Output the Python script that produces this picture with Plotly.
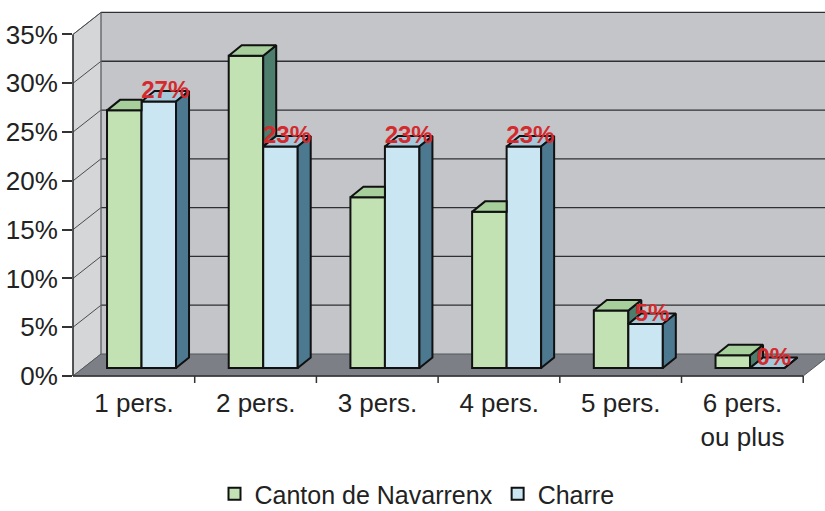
import math
import plotly.graph_objects as go

# ---------------- data ----------------
categories = ["1 pers.", "2 pers.", "3 pers.", "4 pers.", "5 pers.", "6 pers.<br>ou plus"]
canton = [26.4, 32.0, 17.5, 16.0, 5.9, 1.3]
charre = [27.3, 22.7, 22.7, 22.7, 4.5, 0.0]
series_names = ["Canton de Navarrenx", "Charre"]
y_ticks = [0, 5, 10, 15, 20, 25, 30, 35]
y_tick_labels = [f"{v}%" for v in y_ticks]

# ---------------- style ----------------
FONT = "Liberation Sans, Arial, sans-serif"
GREEN_FRONT, GREEN_TOP, GREEN_SIDE = "#c2e2b3", "#a6cf9c", "#4d7d6c"
BLUE_FRONT, BLUE_TOP, BLUE_SIDE = "#c9e6f2", "#a3c9da", "#4c7990"
BACK_WALL, SIDE_WALL, FLOOR = "#c3c5c8", "#d4d6d8", "#7c8086"
LABEL_RED = "#d42a2e"

W, H = 825, 511
L, R, T, B = 73, 825, 12, 376          # plot area in pixels
XR = [-0.563, 5.616]                    # x range (bar plane)
YR = [-0.82, 36.48]                     # y range (bar plane, percent)
PXX = (R - L) / (XR[1] - XR[0])
PXY = (B - T) / (YR[1] - YR[0])
BAR_W = 0.2835
DX = 13 / PXX                           # bar depth in data units
DY = 10.5 / PXY
FRONT_DX = -7.5 / PXX                   # front plane shift vs bar plane
FRONT_DY = YR[0]


def xp(px):
    return (px - L) / (R - L)


def yp(py):
    return (B - py) / (B - T)


def front_py(v):
    return B - v * PXY


shapes = []
# back wall
shapes.append(dict(type="rect", xref="paper", yref="paper", x0=xp(L + 28), x1=1.0,
                   y0=yp(B - 22), y1=yp(front_py(35) - 22), fillcolor=BACK_WALL,
                   line=dict(width=0), layer="below"))
# left side wall
shapes.append(dict(type="path", xref="paper", yref="paper",
                   path=f"M{xp(L)},{yp(B)} L{xp(L)},{yp(front_py(35))} L{xp(L+28)},{yp(front_py(35)-22)} "
                        f"L{xp(L+28)},{yp(B-22)} Z",
                   fillcolor=SIDE_WALL, line=dict(color="#6a6d70", width=1), layer="below"))
# floor
front_right = L + 6 * PXX
shapes.append(dict(type="path", xref="paper", yref="paper",
                   path=f"M{xp(L)},{yp(B)} L{xp(front_right)},{yp(B)} L{xp(front_right+28)},{yp(B-22)} "
                        f"L{xp(L+28)},{yp(B-22)} Z",
                   fillcolor=FLOOR, line=dict(color="#55585c", width=1), layer="below"))
# gridlines (back wall + left wall diagonals)
for v in y_ticks[1:]:
    pyf = front_py(v)
    shapes.append(dict(type="line", xref="paper", yref="paper", x0=xp(L + 28), x1=1.0,
                       y0=yp(pyf - 22), y1=yp(pyf - 22), line=dict(color="#2e3033", width=1.3),
                       layer="below"))
    shapes.append(dict(type="line", xref="paper", yref="paper", x0=xp(L), x1=xp(L + 28),
                       y0=yp(pyf), y1=yp(pyf - 22), line=dict(color="#4a4c4f", width=1),
                       layer="below"))
# back wall left edge
shapes.append(dict(type="line", xref="paper", yref="paper", x0=xp(L + 28), x1=xp(L + 28),
                   y0=yp(B - 22), y1=yp(front_py(35) - 22), line=dict(color="#6a6d70", width=1),
                   layer="below"))
# front axes
shapes.append(dict(type="line", xref="paper", yref="paper", x0=0, x1=0, y0=0,
                   y1=yp(front_py(35)), line=dict(color="#333", width=1.5)))
shapes.append(dict(type="line", xref="paper", yref="paper", x0=0, x1=xp(front_right), y0=0,
                   y1=0, line=dict(color="#333", width=1.5)))
for k in range(1, len(categories) + 1):
    shapes.append(dict(type="line", xref="paper", yref="paper", x0=xp(L + k * PXX),
                       x1=xp(L + k * PXX), y0=0, y1=-7 / (B - T), line=dict(color="#333", width=1.5)))

fig = go.Figure()
xs = list(range(len(categories)))
fig.add_trace(go.Bar(x=xs, y=canton, name=series_names[0], offsetgroup="a",
                     marker=dict(color=GREEN_FRONT, line=dict(color="#111", width=2)),
                     hoverinfo="skip"))
fig.add_trace(go.Bar(x=xs, y=charre, name=series_names[1], offsetgroup="b",
                     marker=dict(color=BLUE_FRONT, line=dict(color="#111", width=2)),
                     hoverinfo="skip"))


def poly_trace(polys, color):
    px_, py_ = [], []
    for p in polys:
        for (a, b) in p:
            px_.append(a)
            py_.append(b)
        px_.append(p[0][0])
        py_.append(p[0][1])
        px_.append(None)
        py_.append(None)
    return go.Scatter(x=px_, y=py_, mode="lines", fill="toself", fillcolor=color,
                      line=dict(color="#111", width=2), showlegend=False, hoverinfo="skip")


g_top, g_side, b_top, b_side = [], [], [], []
for i, (vg, vb) in enumerate(zip(canton, charre)):
    gl, gr = i - BAR_W, i
    bl, br = i, i + BAR_W
    if vg >= vb:
        g_top.append([(gl, vg), (gr, vg), (gr + DX, vg + DY), (gl + DX, vg + DY)])
        g_side.append([(gr, vb), (gr, vg), (gr + DX, vg + DY), (gr + DX, vb + DY)])
    else:
        g_top.append([(gl, vg), (gr, vg), (gr, vg + DY), (gl + DX, vg + DY)])
    b_top.append([(bl, vb), (br, vb), (br + DX, vb + DY), (bl + DX, vb + DY)])
    b_side.append([(br, 0), (br, vb), (br + DX, vb + DY), (br + DX, DY)])

fig.add_trace(poly_trace(g_side, GREEN_SIDE))
fig.add_trace(poly_trace(g_top, GREEN_TOP))
fig.add_trace(poly_trace(b_top, BLUE_TOP))
fig.add_trace(poly_trace(b_side, BLUE_SIDE))

fig.add_trace(go.Scatter(
    x=[i + BAR_W / 2 + DX / 2 for i in xs],
    y=[v + 0.95 for v in charre],
    text=[f"<b>{math.floor(v + 0.5)}%</b>" for v in charre],
    mode="text", textposition="middle center",
    textfont=dict(family=FONT, size=24, color=LABEL_RED),
    showlegend=False, hoverinfo="skip", cliponaxis=False))

fig.update_layout(
    width=W, height=H,
    margin=dict(l=L, r=W - R, t=T, b=H - B, autoexpand=False),
    paper_bgcolor="white", plot_bgcolor="white",
    barmode="group", bargap=1 - 2 * BAR_W, bargroupgap=0,
    font=dict(family=FONT, size=26, color="#222"),
    shapes=shapes,
    showlegend=True,
    legend=dict(orientation="h", x=xp(417), xanchor="center", y=yp(494), yanchor="middle",
                font=dict(size=25, color="#222"), bgcolor="rgba(0,0,0,0)",
                traceorder="normal"),
    xaxis=dict(range=XR, tickmode="array", tickvals=[i + FRONT_DX for i in xs],
               ticktext=categories, showgrid=False, zeroline=False, showline=False,
               ticks="", automargin=False, ticklabelstandoff=9,
               tickfont=dict(size=26, color="#222")),
    yaxis=dict(range=YR, tickmode="array", tickvals=[v + FRONT_DY for v in y_ticks],
               ticktext=y_tick_labels, showgrid=False, zeroline=False, showline=False,
               ticks="outside", ticklen=10, tickwidth=1.5, tickcolor="#333",
               automargin=False, ticklabelstandoff=-1,
               tickfont=dict(size=26, color="#222")),
)

fig.write_html("out.html", config={"displayModeBar": False},
               post_script="document.body.style.margin='0';document.body.style.padding='0';"
                           "document.documentElement.style.overflow='hidden';")
